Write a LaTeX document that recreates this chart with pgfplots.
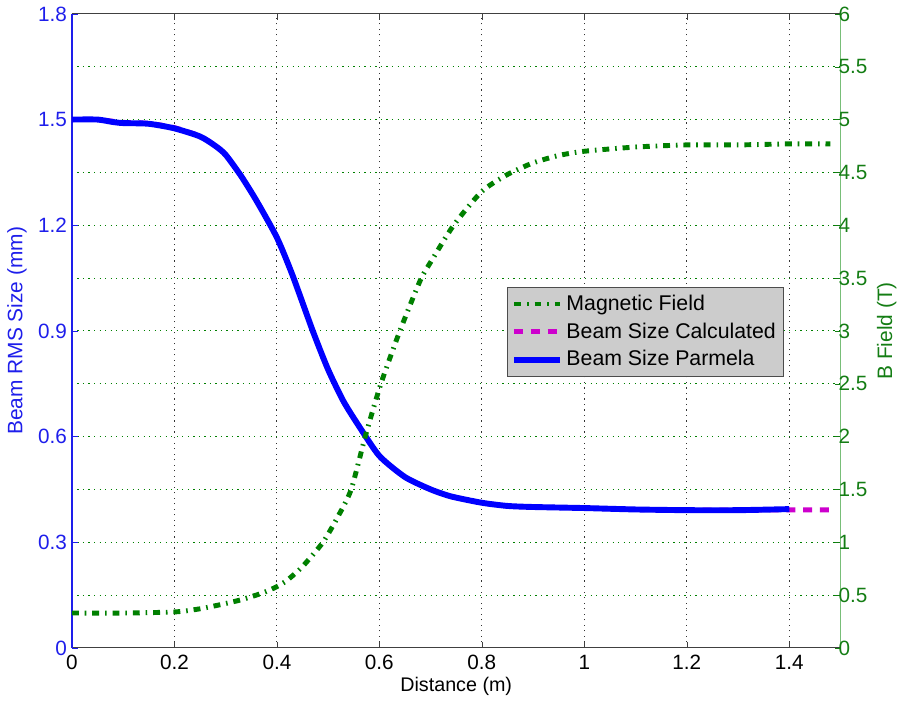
\documentclass[border=0pt]{standalone}
\usepackage{fontspec}
\setmainfont{Liberation Sans}
\usepackage{pgfplots}
\pgfplotsset{compat=1.18}
\definecolor{lblue}{RGB}{30,30,235}
\definecolor{mgreen}{RGB}{0,128,0}
\definecolor{tgreen}{RGB}{20,125,20}
\definecolor{agreen}{RGB}{120,190,120}
\definecolor{mmag}{RGB}{205,0,205}
\definecolor{lgray}{RGB}{204,204,204}
\pgfplotstableread{
x y
0 1.500
0.05 1.500
0.08 1.493
0.1 1.490
0.15 1.488
0.2 1.475
0.25 1.452
0.28 1.425
0.3 1.400
0.33 1.340
0.36 1.270
0.4 1.165
0.43 1.060
0.47 0.900
0.5 0.790
0.53 0.700
0.56 0.630
0.6 0.545
0.65 0.485
0.7 0.450
0.74 0.430
0.8 0.412
0.85 0.403
0.9 0.400
1.0 0.397
1.1 0.393
1.2 0.391
1.3 0.391
1.4 0.394
}\parmela
\pgfplotstableread{
x y
0 1.500
0.05 1.500
0.08 1.495
0.1 1.492
0.15 1.489
0.2 1.477
0.25 1.453
0.28 1.426
0.3 1.400
0.33 1.340
0.36 1.270
0.4 1.165
0.43 1.060
0.47 0.900
0.5 0.790
0.53 0.700
0.56 0.630
0.6 0.545
0.65 0.485
0.7 0.450
0.74 0.430
0.8 0.412
0.85 0.403
0.9 0.400
1.0 0.397
1.1 0.393
1.2 0.391
1.3 0.391
1.4 0.392
1.49 0.392
}\calc
\pgfplotstableread{
x y
0 0.33
0.1 0.33
0.2 0.34
0.25 0.37
0.3 0.42
0.33 0.455
0.36 0.50
0.38 0.535
0.4 0.58
0.42 0.64
0.45 0.77
0.49 1.00
0.52 1.25
0.545 1.50
0.573 2.01
0.603 2.50
0.64 3.00
0.68 3.48
0.70 3.65
0.745 4.00
0.8 4.32
0.85 4.48
0.9 4.59
0.95 4.66
1.0 4.70
1.1 4.74
1.2 4.76
1.3 4.76
1.4 4.77
1.48 4.77
}\bfield
\begin{document}
\begin{tikzpicture}
\pgfplotsset{
  every axis/.append style={
    set layers,
    scale only axis,
    width=390pt, height=321.7pt,
    xmin=0, xmax=1.5,
    tick align=inside,
    major tick length=3pt,
    /pgf/number format/assume math mode=true,
    tick label style={font=\fontsize{10.5}{12}\selectfont},
    label style={font=\fontsize{10.6}{12}\selectfont},
  }
}
\begin{axis}[
  ymin=0, ymax=1.8,
  axis x line=box,
  axis y line*=left,
  xtick={0,0.2,0.4,0.6,0.8,1,1.2,1.4},
  ytick={0,0.3,0.6,0.9,1.2,1.5,1.8},
  yticklabels={0,0.3,0.6,0.9,1.2,1.5,1.8},
  xticklabels={0,0.2,0.4,0.6,0.8,1,1.2,1.4},
  xtick pos=both,
  x axis line style={black!75, line width=0.6pt, -},
  y axis line style={lblue, line width=0.7pt, -},
  ytick style={lblue},
  xtick style={black!75},
  yticklabel style={text=lblue, xshift=1pt},
  xmajorgrids,
  grid style={black!80, line width=0.5pt, dash pattern=on 0.6pt off 2.2pt},
  xlabel={Distance (m)},
  ylabel={\textcolor{lblue}{Beam RMS Size (mm)}},
  xlabel style={yshift=3pt},
  ylabel style={yshift=-1pt},
]
\addplot[mmag, line width=2.5pt, dash pattern=on 4.5pt off 4pt, smooth, tension=0.4] table[x=x,y=y]{\calc};
\addplot[blue, line width=3pt, smooth, tension=0.4] table[x=x,y=y]{\parmela};
\end{axis}
\begin{axis}[
  ymin=0, ymax=6,
  axis x line=none,
  axis y line*=right,
  ytick={0,0.5,1,1.5,2,2.5,3,3.5,4,4.5,5,5.5,6},
  yticklabels={0,0.5,1,1.5,2,2.5,3,3.5,4,4.5,5,5.5,6},
  y axis line style={agreen, line width=0.7pt, -},
  ytick style={tgreen},
  yticklabel style={text=tgreen, xshift=-4.5pt},
  ymajorgrids,
  grid style={mgreen, line width=0.5pt, dash pattern=on 0.6pt off 2.2pt},
  ylabel={\textcolor{tgreen}{B Field (T)}},
  ylabel style={yshift=2pt},
  legend style={at={(0.566,0.57)}, anchor=north west, fill=lgray, draw=black!70,
    font=\fontsize{10.8}{12.5}\selectfont, row sep=0.8pt, inner sep=2pt},
  legend cell align=left,
  legend image code/.code={\draw[#1] (0pt,0pt) -- (23pt,0pt);},
]
\addplot[mgreen, line width=2.5pt, dash pattern=on 3.5pt off 3pt on 0.8pt off 3pt, smooth, tension=0.4] table[x=x,y=y]{\bfield};
\addlegendentry{Magnetic Field}
\addlegendimage{mmag, line width=2.5pt, dash pattern=on 4.5pt off 4pt}
\addlegendentry{Beam Size Calculated}
\addlegendimage{blue, line width=3pt}
\addlegendentry{Beam Size Parmela}
\end{axis}
\path (current axis.south west) ++(-36.5pt,-27.5pt);
\path (current axis.north east) ++(30.9pt,7pt);
\end{tikzpicture}
\end{document}
